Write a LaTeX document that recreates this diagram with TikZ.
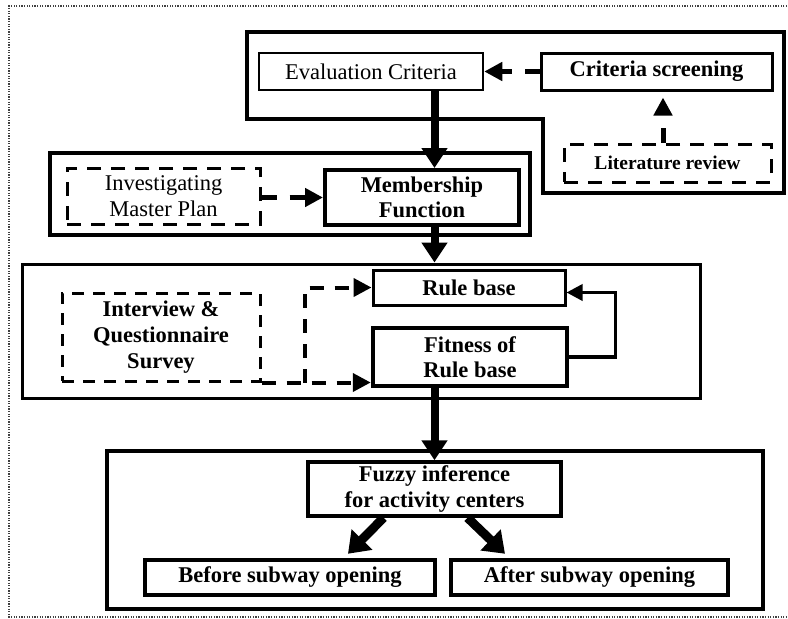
\documentclass[tikz,border=0pt]{standalone}
\usepackage{fontspec}
\setmainfont{Liberation Serif}
\usetikzlibrary{arrows.meta}
\begin{document}
\begin{tikzpicture}[x=1pt,y=-1pt,
  every node/.style={inner sep=0pt, align=center, font=\fontsize{22.5}{25.5}\selectfont},
  bbox/.style={draw, font=\fontsize{22.5}{25.5}\selectfont\bfseries},
  dbox/.style={draw, line width=3pt, dash pattern=on 14pt off 10pt},
  cont/.style={draw},
  thickarrow/.style={line width=8pt, -{Triangle[width=25pt,length=20pt]}},
  diagarrow/.style={line width=9pt, -{Triangle[width=28pt,length=20pt]}},
  dasharrow/.style={line width=5pt, dash pattern=on 15pt off 13pt, -{Triangle[width=18pt,length=18pt]}},
  dline/.style={line width=4pt, dash pattern=on 14pt off 11pt},
  fbarrow/.style={line width=3.5pt, -{Triangle[width=16pt,length=16pt]}},
  frame/.style={line width=1.3pt, dash pattern=on 1.3pt off 1.3pt, black!75}
]
\useasboundingbox (0,0) rectangle (788,619);
% outer dotted frame
\draw[frame] (800,6) -- (9,6) -- (9,617) -- (800,617);

% containers
\draw[line width=4.5pt] (247,32) -- (784,32) -- (784,193) -- (543,193) -- (543,119) -- (247,119) -- cycle;
\node[cont, line width=3.5pt, minimum width=480pt, minimum height=82pt] (c2) at (290,194) {};
\node[cont, line width=3pt, minimum width=678pt, minimum height=134pt] (c3) at (361,331) {};
\node[cont, line width=4.5pt, minimum width=656pt, minimum height=158pt] (c4) at (435,530) {};

% boxes
\node[draw, line width=2.5pt, minimum width=224pt, minimum height=37pt] (eval) at (371,71.5) {Evaluation Criteria};
\node[bbox, line width=3pt, minimum width=231pt, minimum height=37pt] (screen) at (656.5,71.5) {Criteria screening};
\node[dbox, minimum width=207pt, minimum height=38pt, font=\fontsize{19.5}{22}\selectfont\bfseries] (lit) at (667.5,163) {Literature review};
\node[dbox, minimum width=193pt, minimum height=56pt] (inv) at (163.5,196) {Investigating\\Master Plan};
\node[bbox, line width=4pt, minimum width=194pt, minimum height=55pt] (memb) at (422,197.5) {Membership\\Function};
\node[bbox, line width=3pt, minimum width=192pt, minimum height=35pt] (rule) at (469,287.5) {Rule base};
\node[bbox, line width=4.5pt, minimum width=194pt, minimum height=58pt] (fit) at (470,357) {Fitness of\\Rule base};
\node[dbox, minimum width=198pt, minimum height=88pt, font=\fontsize{22.5}{26}\selectfont\bfseries, dash pattern=on 12pt off 9pt] (intv) at (161,337) {Interview \&\\Questionnaire\\Survey};
\node[bbox, line width=3.5pt, minimum width=253pt, minimum height=54pt] (fuzzy) at (434.5,489) {Fuzzy inference\\for activity centers};
\node[bbox, line width=4.5pt, minimum width=290pt, minimum height=35pt] (before) at (290,577.5) {Before subway opening};
\node[bbox, line width=4.5pt, minimum width=277pt, minimum height=35pt] (after) at (589.5,577.5) {After subway opening};

% main flow arrows
\draw[thickarrow] (eval.south -| fuzzy.north) -- (memb.north -| fuzzy.north);
\draw[thickarrow] (memb.south -| fuzzy.north) -- (c3.north -| fuzzy.north);
\draw[thickarrow] (fit.south -| fuzzy.north) -- (fuzzy.north);

% dashed arrows
\draw[dasharrow] (screen.west) -- (eval.east);
\draw[dasharrow, shorten >=6pt] ([xshift=-4.5pt]lit.north) -- ([xshift=-4.5pt]lit.north |- screen.south);
\draw[dasharrow] (inv.east |- memb.west) -- (memb.west);

% interview connectors
\coordinate (j) at ([xshift=43pt]intv.south east);
\draw[dline, -{Triangle[width=18pt,length=18pt]}] (intv.south east) -- (intv.south east -| fit.west);
\draw[dline, -{Triangle[width=18pt,length=18pt]}] (j) -- (j |- rule.west) -- (rule.west);

% feedback
\draw[fbarrow] (fit.east) -- ++(46pt,0) |- ([yshift=-5pt]rule.east);

% diagonal arrows
\draw[diagarrow] ([xshift=-51pt]fuzzy.south) -- ([xshift=58pt,yshift=4pt]before.north);
\draw[diagarrow] ([xshift=33pt]fuzzy.south) -- ([xshift=-84.5pt,yshift=4pt]after.north);
\end{tikzpicture}
\end{document}
